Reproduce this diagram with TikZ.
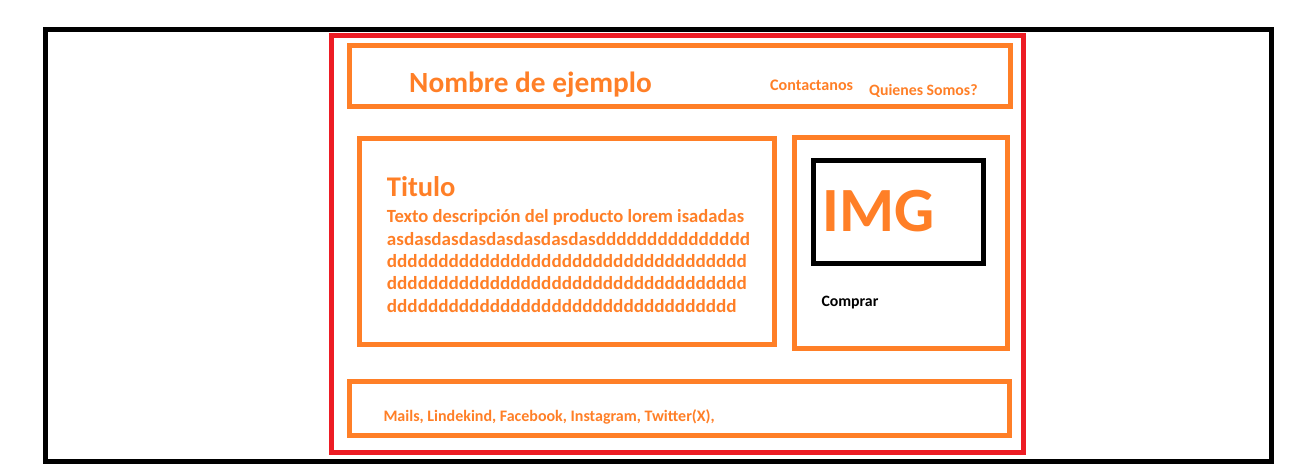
\documentclass[tikz,border=0pt]{standalone}
\usepackage{fontspec}
\setmainfont{Carlito}
\definecolor{pOrange}{HTML}{FF7F27}
\definecolor{pRed}{HTML}{ED1C24}
\tikzset{
  frame/.style={line width=5pt},
  obox/.style={draw=pOrange,line width=5pt},
  otext/.style={text=pOrange,font=\bfseries,inner sep=0pt,anchor=base west},
  dtext/.style={otext,font=\bfseries\fontsize{18.6}{22.5}\selectfont},
  ktext/.style={text=black,font=\bfseries,inner sep=0pt,anchor=base west}
}
\begin{document}
\begin{tikzpicture}[x=1pt,y=-1pt]
\useasboundingbox (0,0) rectangle (1296,466);
% outer black frame
\draw[frame,draw=black] (45.8,29.5) rectangle (1271.5,461.5);
% red page
\draw[frame,draw=pRed] (331.5,35.5) rectangle (1023.5,452.5);
% header
\draw[obox] (349.5,45.5) rectangle (1010.5,106);
\node[otext,font=\bfseries\fontsize{29.3}{36}\selectfont] (name) at (409,92.7) {Nombre de ejemplo};
\node[otext,font=\bfseries\fontsize{16.1}{20}\selectfont] (contact) at (770,90.7) {Contactanos};
\node[otext,font=\bfseries\fontsize{15.8}{20}\selectfont] (about) at (869,95) {Quienes Somos?};
% main content
\draw[obox] (359,138.5) rectangle (774.5,344.5);
\node[otext,font=\bfseries\fontsize{28.5}{34}\selectfont] (title) at (386.7,196.7) {Titulo};
\node[dtext] (d1) at (386.7,222.7) {Texto descripción del producto lorem isadadas};
\node[dtext,xscale=1.03] (d2) at (386.7,245.1) {asdasdasdasdasdasdasdasddddddddddddddd};
\node[dtext,xscale=1.03] (d3) at (386.7,267.5) {ddddddddddddddddddddddddddddddddddd};
\node[dtext,xscale=1.03] (d4) at (386.7,289.9) {ddddddddddddddddddddddddddddddddddd};
\node[dtext,xscale=1.03] (d5) at (386.7,312.3) {dddddddddddddddddddddddddddddddddd};
% side box
\draw[obox] (794.5,137.5) rectangle (1007.5,348.5);
\draw[frame,draw=black] (813.5,160.5) rectangle (983.5,263);
\node[otext,font=\bfseries\fontsize{63}{70}\selectfont] (img) at (822.5,231.7) {IMG};
\node[ktext,font=\bfseries\fontsize{15.8}{18}\selectfont] (buy) at (821.3,306.7) {Comprar};
% footer
\draw[obox] (349.5,381.5) rectangle (1009.5,435.5);
\node[otext,font=\bfseries\fontsize{16}{20}\selectfont] (social) at (383.3,421.7) {Mails, Lindekind, Facebook, Instagram, Twitter(X),};
\end{tikzpicture}
\end{document}
